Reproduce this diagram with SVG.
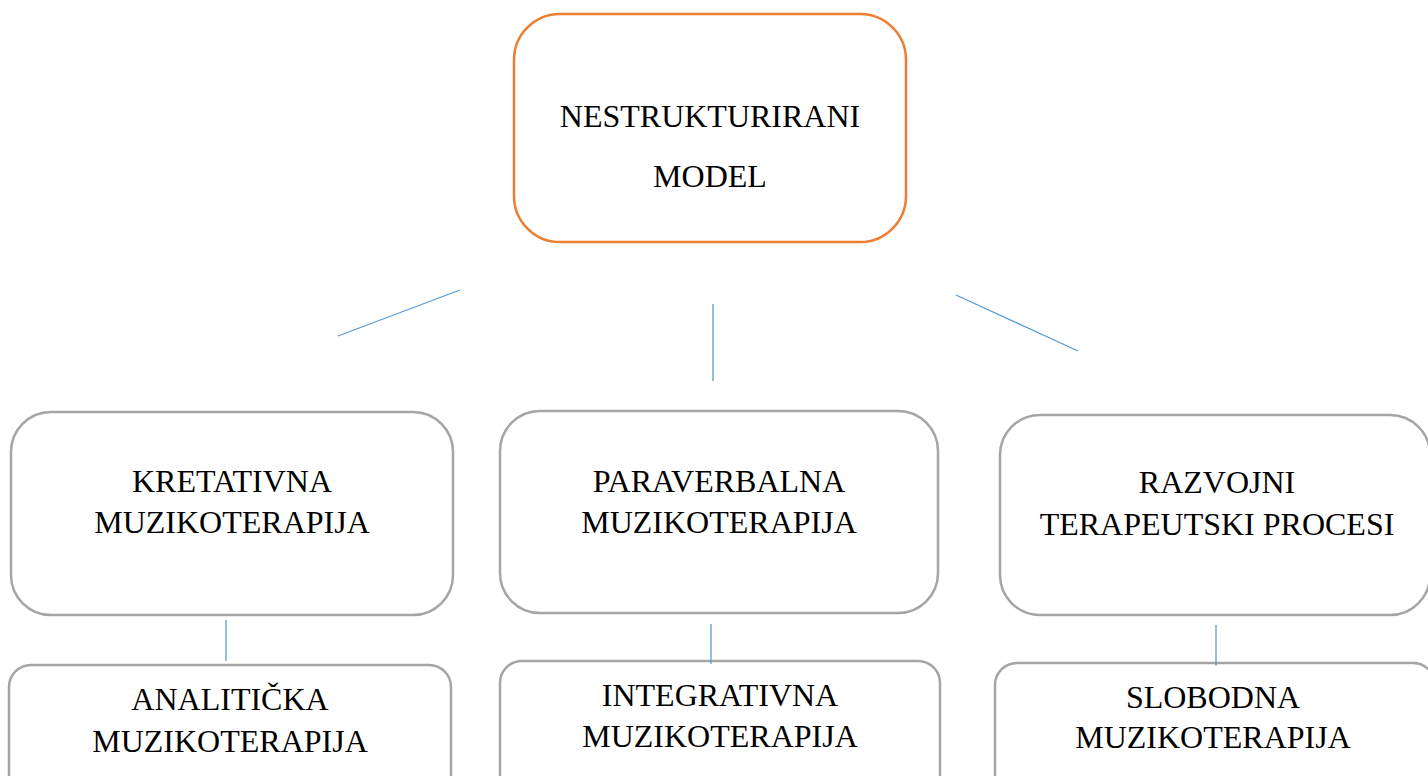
<svg xmlns="http://www.w3.org/2000/svg" width="1428" height="776" viewBox="0 0 1428 776">
<style>
.top{fill:#fff;stroke:#ED7D31;stroke-width:2.5}
.box{fill:#fff;stroke:#A5A5A5;stroke-width:2.5}
.t{font-family:"Liberation Serif","Times New Roman",serif;font-size:32px;fill:#000;text-anchor:middle}
.c{stroke:#5B9BD5;stroke-width:1.3;fill:none}
</style>
<rect width="1428" height="776" fill="#fff"/>
<g id="n-root">
<rect class="top" x="514" y="14" width="392" height="228" rx="46" ry="46"/>
<text class="t" x="710" y="127">NESTRUKTURIRANI</text>
<text class="t" x="710" y="187">MODEL</text>
</g>
<g id="n-kretativna">
<rect class="box" x="11" y="412" width="442" height="203" rx="40" ry="40"/>
<text class="t" x="232" y="492">KRETATIVNA</text>
<text class="t" x="232" y="533">MUZIKOTERAPIJA</text>
</g>
<g id="n-paraverbalna">
<rect class="box" x="500" y="411" width="438" height="202" rx="40" ry="40"/>
<text class="t" x="719" y="492">PARAVERBALNA</text>
<text class="t" x="719" y="533">MUZIKOTERAPIJA</text>
</g>
<g id="n-razvojni">
<rect class="box" x="1000" y="415" width="430" height="200" rx="40" ry="40"/>
<text class="t" x="1217" y="493">RAZVOJNI</text>
<text class="t" x="1217" y="535">TERAPEUTSKI PROCESI</text>
</g>
<g id="n-analiticka">
<rect class="box" x="9" y="665" width="442" height="140" rx="22" ry="22"/>
<text class="t" x="230" y="710">ANALITIČKA</text>
<text class="t" x="230" y="752">MUZIKOTERAPIJA</text>
</g>
<g id="n-integrativna">
<rect class="box" x="500" y="661" width="440" height="140" rx="22" ry="22"/>
<text class="t" x="720" y="706">INTEGRATIVNA</text>
<text class="t" x="720" y="747">MUZIKOTERAPIJA</text>
</g>
<g id="n-slobodna">
<rect class="box" x="995" y="663" width="440" height="140" rx="22" ry="22"/>
<text class="t" x="1213" y="708">SLOBODNA</text>
<text class="t" x="1213" y="748">MUZIKOTERAPIJA</text>
</g>
<g id="connectors">
<line class="c" x1="338" y1="336" x2="460" y2="290"/>
<line class="c" x1="713" y1="304" x2="713" y2="381"/>
<line class="c" x1="956" y1="295" x2="1078" y2="351"/>
<line class="c" x1="226" y1="620" x2="226" y2="661"/>
<line class="c" x1="711" y1="624" x2="711" y2="664"/>
<line class="c" x1="1216" y1="625" x2="1216" y2="666"/>
</g>
</svg>
